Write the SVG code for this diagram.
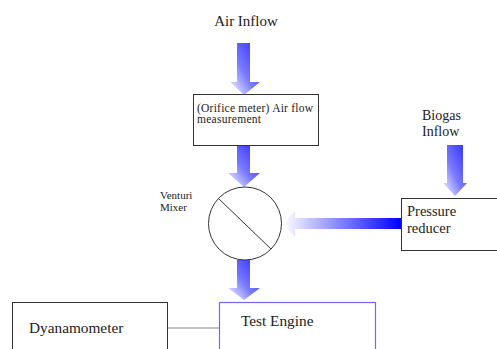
<svg xmlns="http://www.w3.org/2000/svg" width="497" height="349" viewBox="0 0 497 349">
<style>
.t{font-family:"Liberation Serif","Times New Roman",serif;fill:#222}
.box{fill:#fff;stroke:#333;stroke-width:1}
.arrow{fill:url(#gv)}
</style>
<defs>
<linearGradient id="gv" x1="1" y1="0" x2="0" y2="1">
<stop offset="0" stop-color="#2a2aff"/>
<stop offset="0.55" stop-color="#7a7aff"/>
<stop offset="1" stop-color="#ffffff"/>
</linearGradient>
<linearGradient id="gh" x1="0" y1="0" x2="1" y2="0">
<stop offset="0" stop-color="#ffffff"/>
<stop offset="1" stop-color="#0000ff"/>
</linearGradient>
</defs>
<rect width="497" height="349" fill="#fff"/>
<g id="connectors">
<polygon class="arrow" points="237,43 250,43 250,82 260,82 244,95 230,82 237,82"/>
<polygon class="arrow" points="237,146 250,146 250,173 260,173 244,187 228,173 237,173"/>
<polygon class="arrow" points="237,260 250,260 250,288 260,288 244,300 228,288 237,288"/>
<polygon class="arrow" points="447,145 463,145 463,183 467,183 455,196 443,183 447,183"/>
<polygon fill="url(#gh)" points="401,218 401,229 295,229 295,237 283,224 295,211 295,218"/>
<line x1="167" y1="328" x2="219" y2="328" stroke="#888" stroke-width="1.2"/>
</g>
<g id="air-inflow"><text class="t" x="246" y="26" font-size="15" text-anchor="middle">Air Inflow</text></g>
<g id="orifice-meter">
<rect class="box" x="193.5" y="94.5" width="125" height="51"/>
<text class="t" x="197" y="112" font-size="11.5" textLength="116" lengthAdjust="spacing">(Orifice meter) Air flow</text>
<text class="t" x="197" y="123" font-size="11.5" textLength="64" lengthAdjust="spacing">measurement</text>
</g>
<g id="venturi-mixer">
<circle cx="245" cy="223.5" r="36.5" fill="#fff" stroke="#333"/>
<line x1="218" y1="198" x2="271" y2="249" stroke="#333"/>
<text class="t" x="160" y="199" font-size="11">Venturi</text>
<text class="t" x="160" y="211" font-size="11">Mixer</text>
</g>
<g id="biogas-inflow">
<text class="t" x="422" y="120" font-size="14">Biogas</text>
<text class="t" x="422" y="136" font-size="14">Inflow</text>
</g>
<g id="pressure-reducer">
<rect class="box" x="401.5" y="198.5" width="100" height="52"/>
<text class="t" x="407" y="216" font-size="14.5">Pressure</text>
<text class="t" x="407" y="233" font-size="14.5">reducer</text>
</g>
<g id="dyanamometer">
<rect class="box" x="12.5" y="302.5" width="155" height="60" stroke="#555"/>
<text class="t" x="29" y="333" font-size="15.3">Dyanamometer</text>
</g>
<g id="test-engine">
<rect x="219.5" y="302.5" width="156" height="60" fill="#fff" stroke="#6a6aff" stroke-width="1.2"/>
<text class="t" x="241" y="326" font-size="15.3">Test Engine</text>
</g>
</svg>
